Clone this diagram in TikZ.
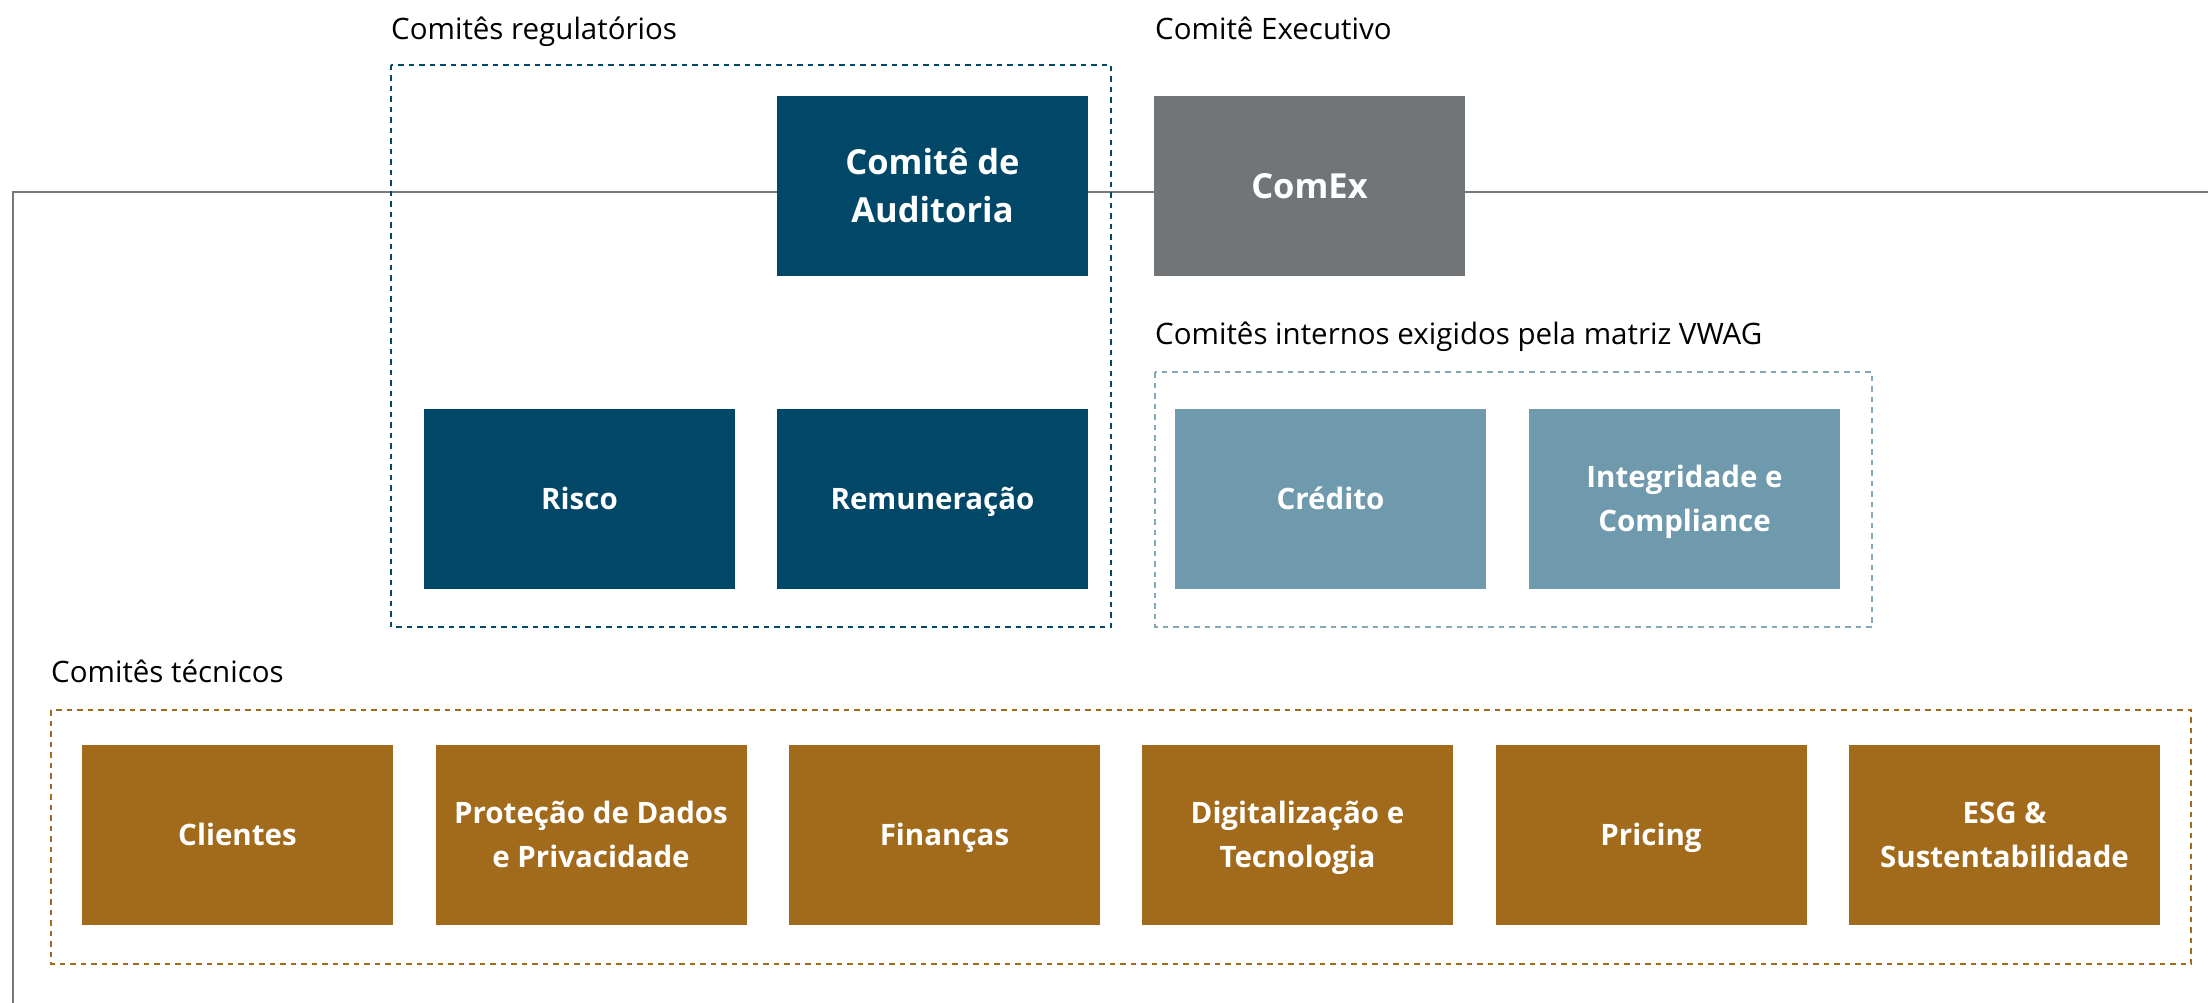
\documentclass[tikz,border=0pt]{standalone}
\usepackage{fontspec}
\setmainfont{Open Sans}
\usepackage{tikz}

\definecolor{regblue}{HTML}{014767}
\definecolor{exgray}{HTML}{727578}
\definecolor{vwagblue}{HTML}{6F99AD}
\definecolor{tecbrown}{HTML}{A26B1C}
\definecolor{trunkgray}{HTML}{76787A}

\newcommand{\bigtop}{\rule{0pt}{35pt}}
\newcommand{\bigbot}{\rule[-10.4pt]{0pt}{0pt}}
\newcommand{\smalltop}{\rule{0pt}{30pt}}
\newcommand{\smallbot}{\rule[-9pt]{0pt}{0pt}}

\begin{document}
\begin{tikzpicture}[x=1pt, y=-1pt,
    box/.style={minimum width=311pt, minimum height=180pt, inner sep=0pt, align=center, text=white},
    bigbox/.style={box, font=\fontsize{34.5}{48}\selectfont\bfseries},
    smallbox/.style={box, font=\fontsize{29.5}{44}\selectfont\bfseries},
    grouplabel/.style={anchor=base west, inner sep=0pt, font=\fontsize{29.5}{36}\selectfont},
    frame/.style={line width=1.5pt, dash pattern=on 5.5pt off 5pt}]
    \useasboundingbox (0,0) rectangle (2208,1003);

    \coordinate (trunkL) at (13,1003);
    \coordinate (trunkR) at (2208,192);
    \draw[trunkgray, line width=2pt] (trunkL) |- (trunkR);

    \draw[frame, regblue] (391,65) rectangle (1111,627);
    \draw[frame, vwagblue!85] (1155,372) rectangle (1872,627);
    \draw[frame, tecbrown] (51,710) rectangle (2191,964);

    \node[grouplabel] at (391,39.5) (lblreg) {Comitês regulatórios};
    \node[grouplabel] at (1155,39.5) (lblexec) {Comitê Executivo};
    \node[grouplabel] at (1155,344) (lblvwag) {Comitês internos exigidos pela matriz VWAG};
    \node[grouplabel] at (51,682) (lbltec) {Comitês técnicos};

    \node[bigbox, fill=regblue] at (932.5,186) (audit) {\bigtop Comitê de\\Auditoria\bigbot};
    \node[bigbox, fill=exgray] at (1309.5,186) (comex) {\bigtop ComEx\bigbot};
    \node[smallbox, fill=regblue] at (579.5,498.5) (risco) {\smalltop Risco\smallbot};
    \node[smallbox, fill=regblue] at (932.5,498.5) (remun) {\smalltop Remuneração\smallbot};
    \node[smallbox, fill=vwagblue] at (1330.5,498.5) (credito) {\smalltop Crédito\smallbot};
    \node[smallbox, fill=vwagblue] at (1684.5,498.5) (integ) {\smalltop Integridade e\\Compliance\smallbot};

    \node[smallbox, fill=tecbrown] at (237.5,835) (clientes) {\smalltop Clientes\smallbot};
    \node[smallbox, fill=tecbrown] at (591,835) (dados) {\smalltop Proteção de Dados\\e Privacidade\smallbot};
    \node[smallbox, fill=tecbrown] at (944.5,835) (financas) {\smalltop Finanças\smallbot};
    \node[smallbox, fill=tecbrown] at (1297.5,835) (digital) {\smalltop Digitalização e\\Tecnologia\smallbot};
    \node[smallbox, fill=tecbrown] at (1651,835) (pricing) {\smalltop Pricing\smallbot};
    \node[smallbox, fill=tecbrown] at (2004.5,835) (esg) {\smalltop ESG \&\\Sustentabilidade\smallbot};
\end{tikzpicture}
\end{document}
